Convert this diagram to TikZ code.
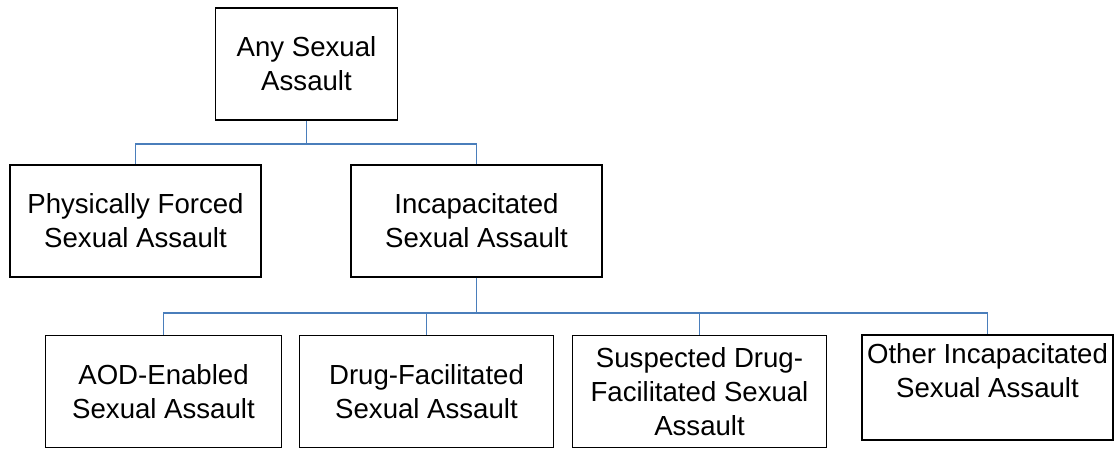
\documentclass[tikz,border=0pt]{standalone}
\usepackage{fontspec}
\setmainfont{Liberation Sans}
\usepackage{xcolor}
\definecolor{linkblue}{RGB}{74, 126, 187}
\usetikzlibrary{positioning, calc}

\begin{document}
\begin{tikzpicture}[
    x=1pt, y=-1pt,
    box/.style={rectangle, draw=black, line width=1.4pt, fill=white,
                minimum width=251pt, minimum height=112pt, align=center,
                inner sep=0pt, font=\fontsize{27.6}{34}\selectfont},
    link/.style={draw=linkblue, line width=1.5pt}
]
    \useasboundingbox (0,0) rectangle (1119,448);
    \clip (0,0) rectangle (1119,448);

    % top level
    \node[box, minimum width=182pt] (any) at (306.5,64) {Any Sexual\\Assault};

    % second level
    \node[box] (forced) at (135.5,221) {Physically Forced\\Sexual Assault};
    \node[box] (incap) at (476.5,221) {Incapacitated\\Sexual Assault};

    % third level
    \node[box, minimum width=236pt] (aod) at (163.5,391.5) {AOD-Enabled\\Sexual Assault};
    \node[box, minimum width=254pt] (drug) at (426.5,391.5) {Drug-Facilitated\\Sexual Assault};
    \node[box, minimum width=254pt] (suspect) at (699.5,391.5) {Suspected Drug-\\Facilitated Sexual\\Assault};
    \node[box, minimum width=251pt, minimum height=105pt] (other) at (987.5,387.5)
        {Other Incapacitated\\Sexual Assault\\\mbox{}};

    % connectors
    \draw[link] (any.south) -- ++(0,23.5) coordinate (split1);
    \draw[link] (split1) -| (forced.north);
    \draw[link] (split1) -| (incap.north);

    \draw[link] (incap.south) -- ++(0,35.5) coordinate (split2);
    \foreach \child in {aod, drug, suspect, other}
        \draw[link] (split2) -| (\child.north);
\end{tikzpicture}
\end{document}
